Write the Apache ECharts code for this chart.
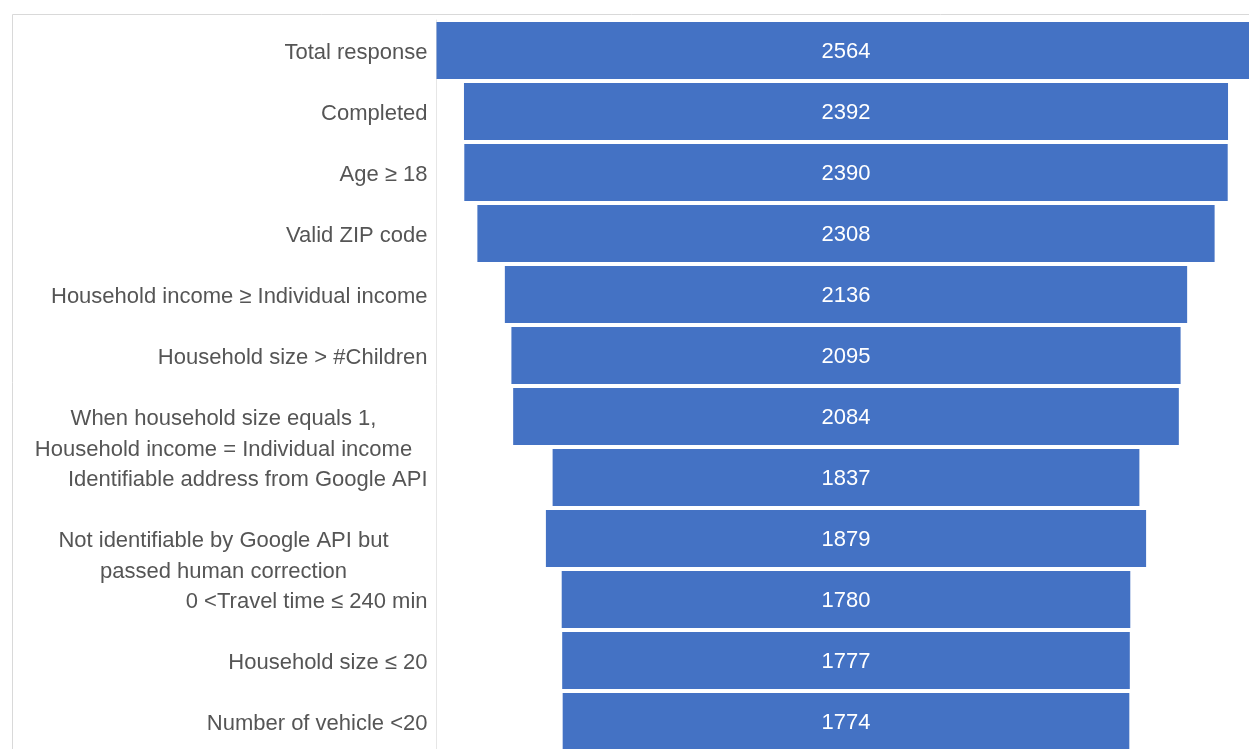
<!DOCTYPE html>
<html>
<head>
<meta charset="utf-8">
<style>
  html, body { margin: 0; padding: 0; background: #fff; }
  #chart { width: 1249px; height: 749px; }
</style>
<script src="https://cdn.jsdelivr.net/npm/echarts@6/dist/echarts.min.js"></script>
</head>
<body>
<div id="chart"></div>
<script>
const categories = [
  'Total response',
  'Completed',
  'Age ≥ 18',
  'Valid ZIP code',
  'Household income ≥ Individual income',
  'Household size > #Children',
  'When household size equals 1,\nHousehold income = Individual income',
  'Identifiable address from Google API',
  'Not identifiable by Google API but\npassed human correction',
  '0 <Travel time ≤ 240 min',
  'Household size ≤ 20',
  'Number of vehicle <20'
]
const counts = [2564, 2392, 2390, 2308, 2136, 2095, 2084, 1837, 1879, 1780, 1777, 1774]

const maxCount = Math.max(...counts)
// invisible spacer so each bar sits centred on the widest one
const spacer = counts.map(v => (maxCount - v) / 2)

const chart = echarts.init(document.getElementById('chart'))
chart.setOption({
  animation: false,
  textStyle: { fontFamily: 'Liberation Sans' },
  graphic: [{
    type: 'rect',
    shape: { x: 12.5, y: 14.5, width: 1400, height: 900 },
    style: { fill: 'none', stroke: '#d9d9d9', lineWidth: 1 },
    silent: true
  }],
  grid: {
    left: 436.5,
    width: 819,
    top: 20,
    height: 732,
    outerBoundsMode: 'none',
    containLabel: false
  },
  xAxis: {
    type: 'value',
    min: 0,
    max: maxCount,
    show: false
  },
  yAxis: {
    type: 'category',
    inverse: true,
    data: categories,
    axisLine: { show: true, lineStyle: { color: '#e6e6e6', width: 1 } },
    axisTick: { show: false },
    axisLabel: {
      interval: 0,
      margin: 9,
      color: '#555555',
      fontSize: 22,
      padding: [4, 0, 0, 0],
      fontFamily: 'Liberation Sans',
      formatter: function (value) {
        if (value.indexOf('\n') < 0) {
          return value
        }
        // wrapped labels: first line on the row, centred block
        const lines = value.split('\n')
        return '{m| }\n' + lines.map(l => '{m|' + l + '}').join('\n')
      },
      rich: {
        m: {
          width: 408,
          align: 'center',
          lineHeight: 31,
          fontSize: 22,
          color: '#555555',
          fontFamily: 'Liberation Sans'
        }
      }
    }
  },
  series: [
    {
      name: 'spacer',
      type: 'bar',
      stack: 'funnel',
      silent: true,
      barWidth: 57,
      itemStyle: { color: 'transparent' },
      data: spacer
    },
    {
      name: 'count',
      type: 'bar',
      stack: 'funnel',
      barWidth: 57,
      itemStyle: { color: '#4472c4' },
      label: {
        show: true,
        position: 'inside',
        offset: [0, 1],
        color: '#ffffff',
        fontSize: 22,
        fontFamily: 'Liberation Sans'
      },
      data: counts
    }
  ]
})
</script>
</body>
</html>
